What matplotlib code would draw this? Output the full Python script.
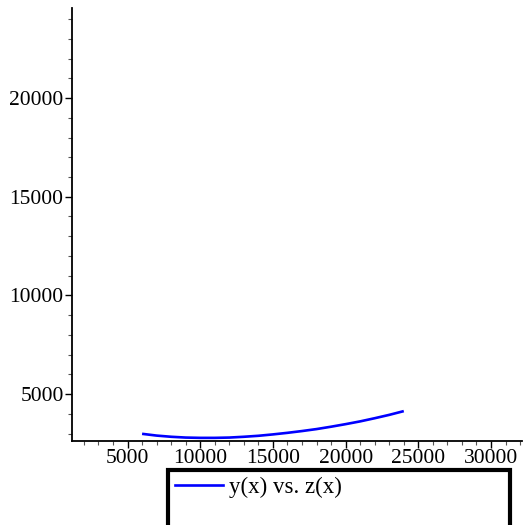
import matplotlib
matplotlib.use("Agg")
import matplotlib.pyplot as plt
from matplotlib.ticker import MultipleLocator
from matplotlib.lines import Line2D

# parametric curve: z(x) on the horizontal axis, y(x) on the vertical axis
z_vals = [6000, 7000, 8000, 9000, 10000, 11000, 12000, 13000, 14000, 15000,
          16000, 17000, 18000, 19000, 20000, 21000, 22000, 23000, 24000]
y_vals = [2990, 2900, 2840, 2800, 2785, 2785, 2800, 2840, 2890, 2960,
          3040, 3130, 3230, 3350, 3480, 3620, 3780, 3950, 4140]
x_ticks = [5000, 10000, 15000, 20000, 25000, 30000]
y_ticks = [5000, 10000, 15000, 20000]
legend_label = "y(x) vs. z(x)"

W, H = 530, 525
fig = plt.figure(figsize=(W / 100, H / 100), dpi=100)
ax = fig.add_axes([72 / W, 1 - 441 / H, (522 - 72) / W, (441 - 8) / H])

ax.plot(z_vals, y_vals, color="#0000ff", lw=1.9, solid_capstyle="butt")

ax.set_xlim(1180, 32130)
ax.set_ylim(2626, 24560)
ax.set_xticks(x_ticks)
ax.set_yticks(y_ticks)
ax.xaxis.set_minor_locator(MultipleLocator(1000))
ax.yaxis.set_minor_locator(MultipleLocator(1000))

for s in ("top", "right"):
    ax.spines[s].set_visible(False)
for s in ("left", "bottom"):
    ax.spines[s].set_linewidth(1.3)
    ax.spines[s].set_color("black")

ax.tick_params(which="major", length=5, width=1.0, color="black",
               labelsize=15.5, pad=1)
ax.tick_params(which="minor", length=3, width=0.8, color="#555555")
for lab in ax.get_xticklabels() + ax.get_yticklabels():
    lab.set_fontfamily("Liberation Serif")

handles = [Line2D([], [], color="#0000ff", lw=1.9),
           Line2D([], [], color="none")]
leg = fig.legend(handles, [legend_label, " "],
                 loc="upper left",
                 bbox_to_anchor=(168 / W, 1 - 470 / H, (510 - 168) / W, 0),
                 mode="expand", borderaxespad=0, borderpad=0.3,
                 handlelength=2.1, handletextpad=0.25, labelspacing=1.0,
                 frameon=True, fancybox=False, framealpha=1,
                 prop={"family": "Liberation Serif", "size": 16.5})
leg.get_frame().set_edgecolor("black")
leg.get_frame().set_linewidth(3)

fig.savefig("out.png", dpi=100)
